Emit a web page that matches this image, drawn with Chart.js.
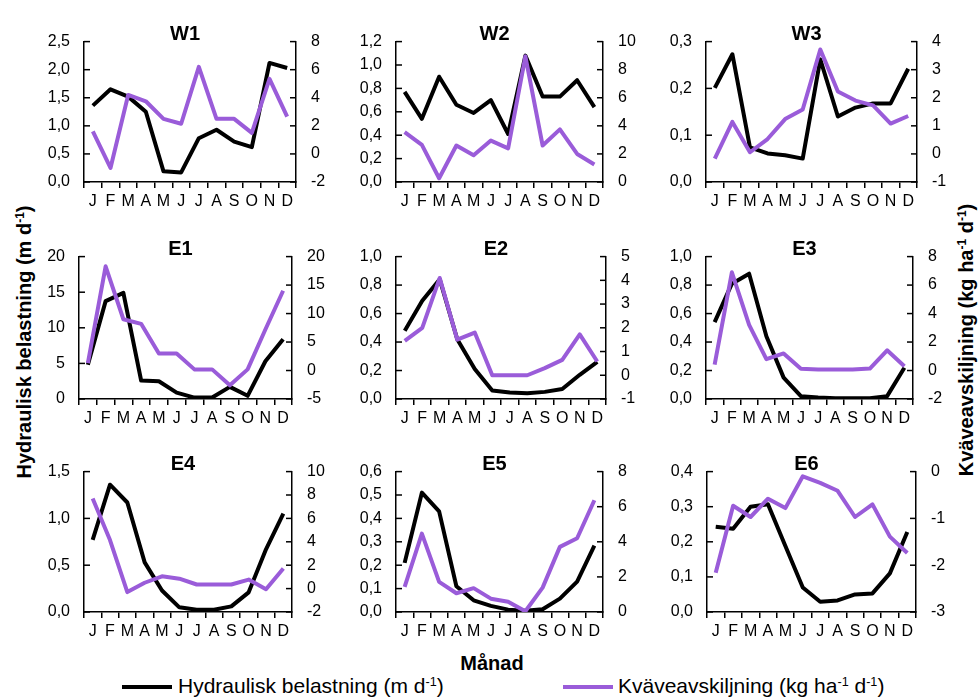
<!DOCTYPE html>
<html lang="sv">
<head>
<meta charset="UTF-8">
<title>Hydraulisk belastning och kväveavskiljning</title>
<script src="https://cdn.jsdelivr.net/npm/chart.js"></script>
<style>
    body {
        margin: 0;
        background: #fff;
        font-family: "Liberation Sans", Arial, sans-serif;
        color: #000;
    }
    #wrap {
        position: relative;
        width: 979px;
        height: 698px;
        overflow: hidden;
    }
    #wrap canvas {
        position: absolute;
    }
    .ytitle {
        position: absolute;
        font-weight: bold;
        font-size: 20px;
        white-space: nowrap;
        transform: translate(-50%, -50%) rotate(-90deg);
    }
    .xtitle {
        position: absolute;
        left: 492px;
        top: 663px;
        font-weight: bold;
        font-size: 20px;
        transform: translate(-50%, -50%);
    }
    .leg {
        position: absolute;
        top: 675px;
        font-size: 21px;
        white-space: nowrap;
        line-height: 22px;
    }
    .legline {
        position: absolute;
        top: 685px;
        height: 4px;
        width: 50px;
    }
    sup { font-size: 60%; vertical-align: 0.55em; line-height: 0; }
</style>
</head>
<body>
<div id="wrap">
    <div class="ytitle" style="left:24px; top:342px;">Hydraulisk belastning (m d<sup>-1</sup>)</div>
    <div class="ytitle" style="left:966px; top:340px;">Kväveavskiljning (kg ha<sup>-1</sup> d<sup>-1</sup>)</div>
    <div class="xtitle">Månad</div>
    <div class="legline" style="left:122px; background:#000;"></div>
    <div class="leg" style="left:178px;">Hydraulisk belastning (m d<sup>-1</sup>)</div>
    <div class="legline" style="left:563px; background:#9a5cd9;"></div>
    <div class="leg" style="left:618px;">Kväveavskiljning (kg ha<sup>-1</sup> d<sup>-1</sup>)</div>
</div>

<script>
    var months = ['J', 'F', 'M', 'A', 'M', 'J', 'J', 'A', 'S', 'O', 'N', 'D'];

    // hydraulisk belastning (m/d) och kväveavskiljning (kg/ha/d) per anläggning
    var w1Hyd = [1.36, 1.65, 1.52, 1.25, 0.19, 0.17, 0.78, 0.93, 0.72, 0.62, 2.12, 2.03];
    var w1N = [1.6, -1.0, 4.2, 3.75, 2.5, 2.15, 6.2, 2.5, 2.5, 1.5, 5.35, 2.65];
    var w2Hyd = [0.77, 0.54, 0.90, 0.66, 0.59, 0.70, 0.41, 1.08, 0.73, 0.73, 0.87, 0.64];
    var w2N = [3.55, 2.65, 0.27, 2.6, 1.9, 2.95, 2.4, 8.95, 2.6, 3.75, 2.0, 1.25];
    var w3Hyd = [0.201, 0.273, 0.074, 0.061, 0.057, 0.050, 0.262, 0.140, 0.159, 0.168, 0.168, 0.242];
    var w3N = [-0.17, 1.14, 0.06, 0.53, 1.24, 1.58, 3.72, 2.22, 1.90, 1.73, 1.08, 1.35];
    var e1Hyd = [4.8, 13.75, 14.9, 2.6, 2.5, 0.9, 0.2, 0.2, 1.7, 0.45, 5.3, 8.4];
    var e1N = [1.3, 18.3, 9.0, 8.2, 3.0, 3.0, 0.2, 0.2, -2.6, 0.2, 7.2, 14.0];
    var e2Hyd = [0.48, 0.69, 0.84, 0.42, 0.21, 0.06, 0.045, 0.04, 0.05, 0.07, 0.17, 0.26];
    var e2N = [1.45, 2.0, 4.1, 1.5, 1.8, 0.0, 0.0, 0.0, 0.3, 0.65, 1.72, 0.58];
    var e3Hyd = [0.54, 0.81, 0.88, 0.44, 0.15, 0.02, 0.01, 0.005, 0.005, 0.005, 0.02, 0.22];
    var e3N = [0.41, 6.9, 3.2, 0.8, 1.2, 0.12, 0.08, 0.08, 0.08, 0.14, 1.42, 0.3];
    var e4Hyd = [0.77, 1.36, 1.17, 0.53, 0.23, 0.05, 0.025, 0.025, 0.06, 0.21, 0.67, 1.05];
    var e4N = [7.7, 4.15, -0.3, 0.5, 1.05, 0.85, 0.35, 0.35, 0.35, 0.77, -0.05, 1.72];
    var e5Hyd = [0.21, 0.51, 0.43, 0.11, 0.05, 0.026, 0.01, 0.005, 0.012, 0.057, 0.13, 0.284];
    var e5N = [1.43, 4.47, 1.72, 1.07, 1.36, 0.76, 0.58, 0.04, 1.39, 3.71, 4.2, 6.37];
    var e6Hyd = [0.243, 0.237, 0.30, 0.307, 0.188, 0.07, 0.029, 0.033, 0.05, 0.053, 0.11, 0.228];
    var e6N = [-2.16, -0.73, -0.97, -0.58, -0.78, -0.10, -0.24, -0.41, -0.97, -0.70, -1.39, -1.74];

    // axelskalor: [min, max, steg, decimaler]
    var panels = [
        { name: 'W1', hyd: w1Hyd, n: w1N, left: [0, 2.5, 0.5, 1], right: [-2, 8, 2] },
        { name: 'W2', hyd: w2Hyd, n: w2N, left: [0, 1.2, 0.2, 1], right: [0, 10, 2] },
        { name: 'W3', hyd: w3Hyd, n: w3N, left: [0, 0.3, 0.1, 1], right: [-1, 4, 1] },
        { name: 'E1', hyd: e1Hyd, n: e1N, left: [0, 20, 5, 0], right: [-5, 20, 5] },
        { name: 'E2', hyd: e2Hyd, n: e2N, left: [0, 1.0, 0.2, 1], right: [-1, 5, 1] },
        { name: 'E3', hyd: e3Hyd, n: e3N, left: [0, 1.0, 0.2, 1], right: [-2, 8, 2] },
        { name: 'E4', hyd: e4Hyd, n: e4N, left: [0, 1.5, 0.5, 1], right: [-2, 10, 2] },
        { name: 'E5', hyd: e5Hyd, n: e5N, left: [0, 0.6, 0.1, 1], right: [0, 8, 2] },
        { name: 'E6', hyd: e6Hyd, n: e6N, left: [0, 0.4, 0.1, 1], right: [-3, 0, 1] }
    ];

    // plottytans kanter i bilden: vänster, höger, topp, botten
    var boxes = [
        [84, 296, 35, 182], [396, 603, 35, 182], [706, 917, 35, 182],
        [79, 292, 250, 399], [396, 606, 250, 399], [706, 913, 250, 399],
        [84, 292, 465, 612], [396, 603, 465, 612], [707, 916, 465, 612]
    ];

    var fam = '"Liberation Sans", Arial, sans-serif';
    var lila = '#9a5cd9';
    var LEFTW = 60, RIGHTW = 50, TOPH = 18, XH = 32;

    // y-axlarnas skalstreck pekar inåt i diagrammet
    var inreStreck = {
        id: 'inreStreck',
        beforeDatasetsDraw: function (chart) {
            var ctx = chart.ctx;
            ctx.save();
            ctx.strokeStyle = '#000';
            ctx.lineWidth = 1.5;
            ['y', 'y1'].forEach(function (id) {
                var s = chart.scales[id];
                var x0 = id === 'y' ? s.right : s.left;
                var dir = id === 'y' ? 1 : -1;
                s.ticks.forEach(function (t, i) {
                    var y = s.getPixelForTick(i);
                    ctx.beginPath();
                    ctx.moveTo(x0, y);
                    ctx.lineTo(x0 + dir * 6, y);
                    ctx.stroke();
                });
            });
            ctx.restore();
        }
    };

    var wrap = document.getElementById('wrap');

    panels.forEach(function (p, k) {
        var b = boxes[k];
        var canvas = document.createElement('canvas');
        var w = b[1] - b[0] + LEFTW + RIGHTW;
        var h = b[3] - b[2] + TOPH + XH;
        canvas.width = w;
        canvas.height = h;
        canvas.style.left = (b[0] - LEFTW) + 'px';
        canvas.style.top = (b[2] - TOPH) + 'px';
        canvas.style.width = w + 'px';
        canvas.style.height = h + 'px';
        wrap.appendChild(canvas);

        var dec = p.left[3];
        new Chart(canvas.getContext('2d'), {
            type: 'line',
            data: {
                labels: months,
                datasets: [
                    {
                        label: 'Hydraulisk belastning',
                        data: p.hyd,
                        yAxisID: 'y',
                        borderColor: '#000',
                        borderWidth: 4,
                        pointRadius: 0,
                        tension: 0,
                        borderJoinStyle: 'round',
                        order: 1
                    },
                    {
                        label: 'Kväveavskiljning',
                        data: p.n,
                        yAxisID: 'y1',
                        borderColor: lila,
                        borderWidth: 4,
                        pointRadius: 0,
                        tension: 0,
                        borderJoinStyle: 'round',
                        order: 0
                    }
                ]
            },
            options: {
                responsive: false,
                animation: false,
                devicePixelRatio: 1,
                layout: { padding: { top: 4, left: 0, right: 0, bottom: 0 } },
                plugins: {
                    legend: { display: false },
                    tooltip: { enabled: false },
                    title: {
                        display: true,
                        text: p.name,
                        color: '#000',
                        padding: 0,
                        font: { family: fam, size: 20, weight: 'bold', lineHeight: 0.7 }
                    }
                },
                scales: {
                    x: {
                        offset: true,
                        grid: { offset: true, drawOnChartArea: false, color: '#000', lineWidth: 1.5, tickLength: 6 },
                        border: { color: '#000', width: 1.5 },
                        ticks: { color: '#000', font: { family: fam, size: 16 }, padding: 4, maxRotation: 0, autoSkip: false },
                        afterFit: function (s) { s.height = XH; }
                    },
                    y: {
                        position: 'left',
                        min: p.left[0],
                        max: p.left[1],
                        grid: { display: false, drawTicks: false },
                        border: { display: true, color: '#000', width: 1.5 },
                        ticks: {
                            stepSize: p.left[2],
                            color: '#000',
                            padding: 14,
                            font: { family: fam, size: 16 },
                            callback: function (v) { return v.toFixed(dec).replace('.', ','); }
                        },
                        afterFit: function (s) { s.width = LEFTW; }
                    },
                    y1: {
                        position: 'right',
                        min: p.right[0],
                        max: p.right[1],
                        grid: { display: false, drawTicks: false },
                        border: { display: true, color: '#000', width: 1.5 },
                        ticks: {
                            stepSize: p.right[2],
                            color: '#000',
                            padding: 15,
                            font: { family: fam, size: 16 },
                            callback: function (v) { return String(Math.round(v)); }
                        },
                        afterFit: function (s) { s.width = RIGHTW; }
                    }
                }
            },
            plugins: [inreStreck]
        });
    });
</script>
</body>
</html>
